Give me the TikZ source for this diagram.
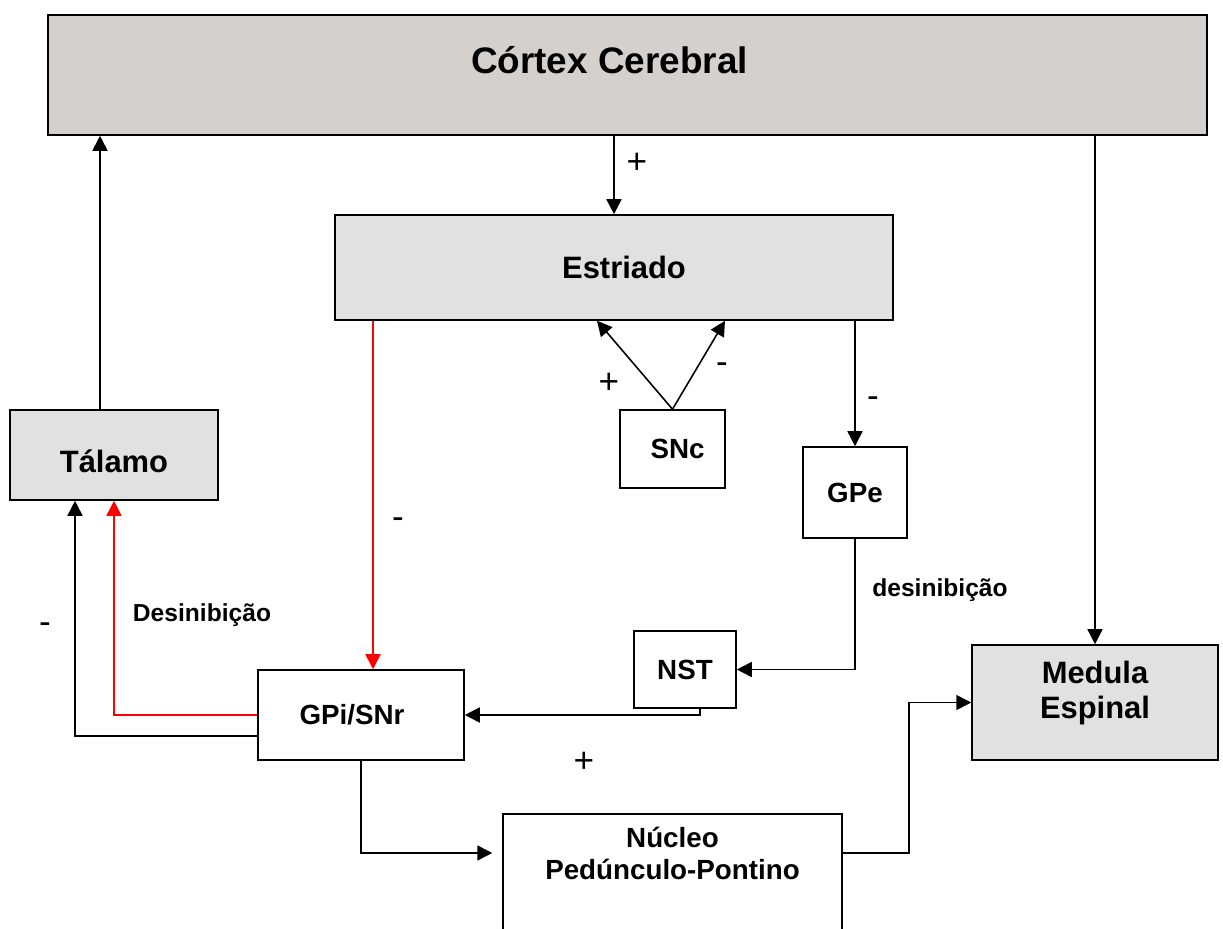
\documentclass[tikz,border=0pt]{standalone}
\usepackage{fontspec}
\setmainfont{Liberation Sans}
\usetikzlibrary{arrows.meta, positioning, calc}
\definecolor{cortexgray}{HTML}{D4D0CE}
\definecolor{boxgray}{HTML}{E1E1E1}
\definecolor{pathred}{HTML}{FF0000}

\begin{document}
\begin{tikzpicture}[
    x=0.02cm, y=-0.02cm,
    region/.style={
        rectangle, draw=black, line width=0.9pt, fill=#1,
        align=center, inner sep=2pt
    },
    region/.default=white,
    big/.style={font=\bfseries\fontsize{21}{25}\selectfont},
    mid/.style={font=\bfseries\fontsize{17.6}{20}\selectfont},
    small/.style={font=\bfseries\fontsize{15.8}{18.5}\selectfont},
    arrow/.style={-{Triangle[length=0.3cm,width=0.3cm]}, line width=0.9pt, color=#1},
    arrow/.default=black,
    sign/.style={font=\fontsize{20}{22}\selectfont},
    note/.style={font=\bfseries\fontsize{14}{16}\selectfont}
]
\useasboundingbox (0,0) rectangle (1223,929);
\clip (0,0) rectangle (1223,929);

% Nodes
\node[region=cortexgray, big, minimum width=23.18cm, minimum height=2.4cm, text depth=0.6cm] (cortex) at (627.5,75) {C\'ortex Cerebral\hspace*{0.72cm}};

\node[region=boxgray, mid, minimum width=11.16cm, minimum height=2.1cm] (estriado) at (614,267.5) {\hspace*{0.4cm}Estriado};

\node[region, small, minimum width=2.1cm, minimum height=1.56cm] (snc) at (672.5,449) {\hspace*{0.2cm}SNc};

\node[region, small, minimum width=2.08cm, minimum height=1.82cm] (gpe) at (855,492.5) {GPe};

\node[region=boxgray, mid, minimum width=4.16cm, minimum height=1.8cm, text height=0.7cm] (talamo) at (114,455) {T\'alamo};

\node[region, small, minimum width=4.12cm, minimum height=1.8cm] (gpi) at (361,715) {GPi/SNr\hspace*{0.36cm}};

\node[region, small, minimum width=2.04cm, minimum height=1.54cm] (nst) at (685,669.5) {NST};

\node[region=boxgray, mid, minimum width=4.92cm, minimum height=2.3cm, text depth=0.5cm] (medula) at (1095,702.5) {Medula\\Espinal};

\node[region, small, anchor=north, minimum width=6.78cm, minimum height=2.94cm, text depth=1.36cm] (pptn) at (672.5,813) {N\'ucleo\\Ped\'unculo-Pontino};

% Main pathways
\draw[arrow] (cortex.south -| estriado.north) -- (estriado.north);
\draw[arrow] (cortex.south -| medula.north) -- (medula.north);
\draw[arrow] ([xshift=-0.28cm]talamo.north) -- ([xshift=-0.28cm]talamo.north |- cortex.south);
\draw[arrow=pathred] ([xshift=0.24cm]gpi.north |- estriado.south) -- ([xshift=0.24cm]gpi.north);

% Dopamine from SNc
\draw[arrow] (snc.north) -- ([xshift=-0.34cm]estriado.south);
\draw[arrow] (snc.north) -- ([xshift=2.22cm]estriado.south);

% Indirect loop
\draw[arrow] (estriado.south -| gpe.north) -- (gpe.north);
\draw[arrow] (gpe.south) |- (nst.east);
\draw[arrow] ([xshift=0.3cm]nst.south) |- (gpi.east);

% Output to thalamus
\draw[arrow=pathred] (gpi.west) -| (talamo.south);
\draw[arrow] ([yshift=-0.42cm]gpi.west) -| ([xshift=-0.78cm]talamo.south);

% Output to brainstem and spinal cord
\draw[arrow] (gpi.south) |- ([shift={(-0.2cm,-0.8cm)}]pptn.north west);
\draw[arrow] ([yshift=-0.8cm]pptn.north east) -- ++(1.32cm,0) |- (medula.west);

% Labels
\node[sign] (s1) at (637,163) {+};
\node[sign] (s2) at (609,383) {+};
\node[sign] (s3) at (722,368) {-};
\node[sign] (s4) at (873,402) {-};
\node[sign] (s5) at (398,523) {-};
\node[sign] (s6) at (45,628) {-};
\node[sign] (s7) at (584,762) {+};
\node[note] (d1) at (202,615) {Desinibi\c{c}\~ao};
\node[note] (d2) at (940,590) {desinibi\c{c}\~ao};

\end{tikzpicture}
\end{document}
